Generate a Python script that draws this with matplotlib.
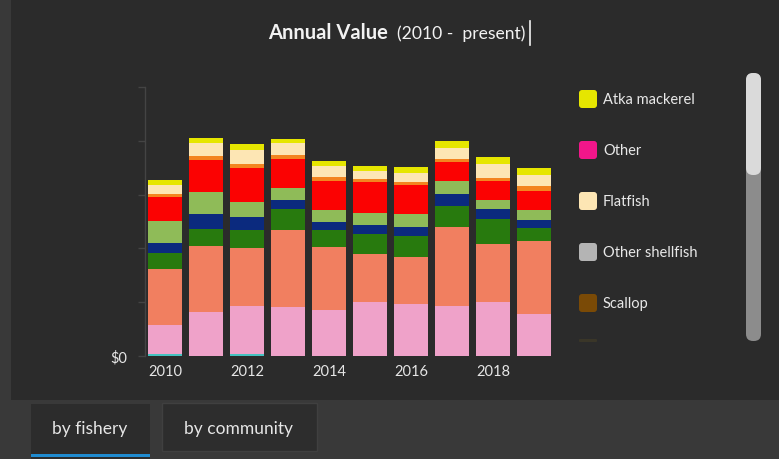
import matplotlib
matplotlib.use("Agg")
import matplotlib.pyplot as plt
from matplotlib.patches import Rectangle, FancyBboxPatch
import numpy as np

plt.rcParams['font.family'] = ['Lato', 'DejaVu Sans']

years = [2010, 2011, 2012, 2013, 2014, 2015, 2016, 2017, 2018, 2019]
tick_years = [2010, 2012, 2014, 2016, 2018]

# stacked series, bottom to top (values in arbitrary $ units, axis ticks every 20)
teal        = [0.7, 0.1, 0.7, 0.1, 0.1, 0.1, 0.1, 0.1, 0.1, 0.1]
pink        = [10.9, 16.4, 18.0, 18.0, 16.9, 20.0, 19.1, 18.4, 20.0, 15.6]
salmon      = [20.7, 24.4, 21.4, 28.9, 23.6, 18.0, 17.7, 29.6, 21.7, 27.1]
dark_green  = [6.0, 6.4, 6.8, 7.7, 6.2, 7.1, 7.7, 7.7, 9.3, 4.8]
navy        = [3.7, 5.5, 4.7, 3.4, 3.1, 3.5, 3.5, 4.4, 3.5, 2.8]
light_green = [8.3, 8.2, 5.8, 4.4, 4.3, 4.6, 4.7, 4.7, 3.4, 3.7]
red         = [8.7, 11.8, 12.4, 10.7, 10.9, 11.2, 10.6, 7.1, 7.1, 7.4]
orange      = [1.2, 1.6, 1.6, 1.5, 1.5, 1.3, 1.1, 1.2, 1.0, 1.6]
flatfish    = [3.4, 4.8, 5.3, 4.4, 4.1, 3.0, 3.5, 4.1, 5.2, 4.2]
atka        = [2.0, 1.9, 2.0, 1.5, 1.7, 1.9, 2.1, 2.7, 2.6, 2.6]

series = [
    (teal, '#45c2c0'),
    (pink, '#efa2c9'),
    (salmon, '#f17f60'),
    (dark_green, '#287a0e'),
    (navy, '#0b2a7e'),
    (light_green, '#8fbb58'),
    (red, '#fb0202'),
    (orange, '#f3841f'),
    (flatfish, '#fde6b4'),
    (atka, '#e6e600'),
]

legend_names = ['Atka mackerel', 'Other', 'Flatfish', 'Other shellfish', 'Scallop']
legend_colors = ['#e6e600', '#f2168a', '#fde6b4', '#b4b4b4', '#7a4a06']

W, H = 779, 460
fig = plt.figure(figsize=(W / 100, H / 100), dpi=100)
fig.patch.set_facecolor('#393939')

# background / UI axes in pixel coordinates
bg = fig.add_axes([0, 0, 1, 1], zorder=-1)
bg.set_xlim(0, W)
bg.set_ylim(H, 0)
bg.axis('off')
bg.add_patch(Rectangle((11, 0), W - 11, 401, color='#2b2b2b', lw=0))
# tabs
bg.add_patch(Rectangle((31, 405), 119, 55, color='#2c2c2c', lw=0))
bg.add_patch(Rectangle((31, 455), 119, 3, color='#1f8bd0', lw=0))
bg.add_patch(Rectangle((162, 404), 155, 48, facecolor='#2d2d2d', edgecolor='#404040', lw=1))
bg.text(90, 429, 'by fishery', color='#e6e6e6', fontsize=12.5, ha='center', va='center')
bg.text(239, 429, 'by community', color='#e6e6e6', fontsize=12.5, ha='center', va='center')

# title
bg.text(388, 33, 'Annual Value', color='#f2f2f2', fontsize=14.5, fontweight='bold',
        ha='right', va='center')
bg.text(397, 34, '(2010 -  present)', color='#f2f2f2', fontsize=12.6, ha='left', va='center')
bg.plot([530, 530], [22, 46], color='#f2f2f2', lw=1.2)

# legend (scrolling list)
for i, (name, col) in enumerate(zip(legend_names, legend_colors)):
    yc = 100 + i * 51
    bg.add_patch(FancyBboxPatch((579, yc - 9), 18, 18, boxstyle='round,pad=0,rounding_size=3',
                                facecolor=col, edgecolor='none'))
    bg.text(603, yc, name, color='#e8e8e8', fontsize=10.5, ha='left', va='center')
bg.add_patch(FancyBboxPatch((579, 340), 18, 3, boxstyle='round,pad=0,rounding_size=1',
                            facecolor='#3a3628', edgecolor='none'))

# scrollbar
bg.add_patch(FancyBboxPatch((746, 74), 15, 268, boxstyle='round,pad=0,rounding_size=7',
                            facecolor='#8c8c8c', edgecolor='none'))
bg.add_patch(FancyBboxPatch((746, 74), 15, 102, boxstyle='round,pad=0,rounding_size=7',
                            facecolor='#dadada', edgecolor='none'))

# chart axes
ax = fig.add_axes([145 / W, (H - 357) / H, 410 / W, 269 / H])
ax.set_facecolor('none')
x = np.array(years)
bottom = np.zeros(len(years))
for vals, col in series:
    v = np.array(vals)
    ax.bar(x, v, bottom=bottom, width=0.83, color=col, linewidth=0)
    bottom += v

ax.set_xlim(2009.51, 2019.51)
ax.set_ylim(0, 100)
ax.set_yticks([0, 20, 40, 60, 80, 100])
ax.set_yticklabels(['$0', '', '', '', '', ''])
ax.set_xticks(tick_years)
ax.set_xticklabels([str(t) for t in tick_years])
for s in ['top', 'right', 'bottom']:
    ax.spines[s].set_visible(False)
ax.spines['left'].set_color('#444444')
ax.spines['left'].set_linewidth(1)
ax.tick_params(axis='y', colors='#444444', length=5, width=1, labelcolor='#e6e6e6',
               labelsize=10.5, pad=8)
ax.tick_params(axis='x', length=0, labelcolor='#e6e6e6', labelsize=10.5, pad=6)

fig.savefig('out.png', dpi=100, facecolor=fig.get_facecolor())
